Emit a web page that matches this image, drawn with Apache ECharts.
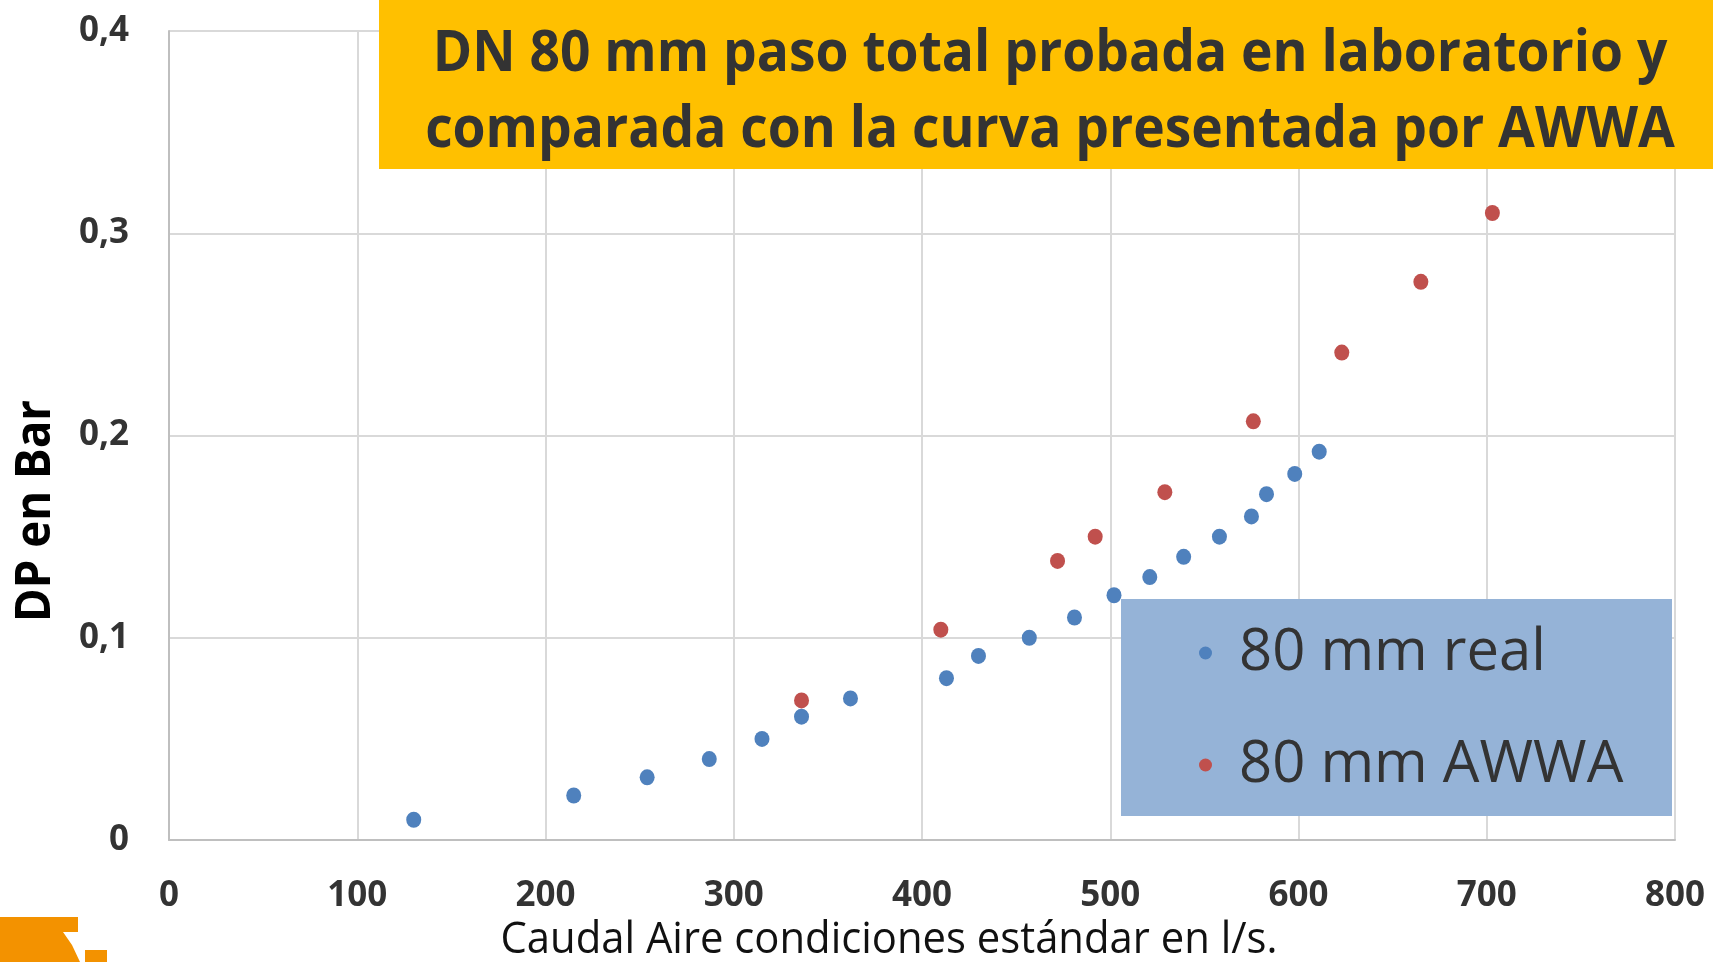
<!DOCTYPE html>
<html>
<head>
<meta charset="utf-8">
<script src="https://cdn.jsdelivr.net/npm/echarts@6/dist/echarts.min.js"></script>
<style>
html,body{margin:0;padding:0;background:#fff;}
#chart{width:1713px;height:962px;}
</style>
</head>
<body>
<div id="chart"></div>
<script>
// ---- data ----
var realX = [130, 215, 254, 287, 315, 336, 362, 413, 430, 457, 481, 502, 521, 539, 558, 575, 583, 598, 611];
var realY = [0.010, 0.022, 0.031, 0.040, 0.050, 0.061, 0.070, 0.080, 0.091, 0.100, 0.110, 0.121, 0.130, 0.140, 0.150, 0.160, 0.171, 0.181, 0.192];
var awwaX = [336, 410, 472, 492, 529, 576, 623, 665, 703];
var awwaY = [0.069, 0.104, 0.138, 0.150, 0.172, 0.207, 0.241, 0.276, 0.310];
var seriesNames = ['80 mm real', '80 mm AWWA'];
var titleLines = ['DN 80 mm paso total probada en laboratorio y', 'comparada con la curva presentada por AWWA'];
var xTitle = 'Caudal Aire condiciones estándar en l/s.';
var yTitle = 'DP en Bar';

function pairs(xs, ys){ return xs.map(function(x,i){ return [x, ys[i]]; }); }

var chart = echarts.init(document.getElementById('chart'), null, {renderer:'canvas'});
var font = '"Open Sans", "Noto Sans", sans-serif';
var option = {
  animation: false,
  backgroundColor: '#ffffff',
  grid: {left: 169, right: 38, top: 31, bottom: 122, containLabel: false},
  xAxis: {
    type: 'value', min: 0, max: 800, interval: 100,
    axisLine: {show: true, lineStyle: {color: '#bfbfbf', width: 2}},
    axisTick: {show: false},
    splitLine: {show: true, lineStyle: {color: '#d9d9d9', width: 2}},
    axisLabel: {color: '#333333', fontFamily: font, fontWeight: 'bold', fontSize: 35, margin: 39}
  },
  yAxis: {
    type: 'value', min: 0, max: 0.4, interval: 0.1,
    axisLine: {show: true, lineStyle: {color: '#bfbfbf', width: 2}},
    axisTick: {show: false},
    splitLine: {show: true, lineStyle: {color: '#d9d9d9', width: 2}},
    axisLabel: {color: '#333333', fontFamily: font, fontWeight: 'bold', fontSize: 35, margin: 40,
      formatter: function(v){ return v === 0 ? '0' : String(Math.round(v*10)/10).replace('.', ','); }}
  },
  legend: {
    orient: 'vertical', left: 1194, top: 614,
    icon: 'circle', itemWidth: 13, itemHeight: 13, itemGap: 44,
    data: seriesNames,
    textStyle: {color: '#333333', fontFamily: font, fontSize: 58, lineHeight: 68, padding: [0,0,0,22]},
    z: 10
  },
  graphic: [
    {type: 'rect', z: 8, shape: {x: 1121, y: 599, width: 551, height: 217}, style: {fill: '#95b3d7'}},
    {type: 'rect', z: 8, shape: {x: 379, y: 0, width: 1334, height: 169}, style: {fill: '#ffc000'}},
    {type: 'text', z: 9, x: 1050, y: 54, scaleX: 0.92,
      style: {text: titleLines[0], fill: '#333333', font: 'bold 58px ' + font, textAlign: 'center', textVerticalAlign: 'middle'}},
    {type: 'text', z: 9, x: 1050, y: 130, scaleX: 0.92,
      style: {text: titleLines[1], fill: '#333333', font: 'bold 58px ' + font, textAlign: 'center', textVerticalAlign: 'middle'}},
    {type: 'text', z: 9, x: 889, y: 940, scaleX: 0.95,
      style: {text: xTitle, fill: '#111111', font: '44px ' + font, textAlign: 'center', textVerticalAlign: 'middle'}},
    {type: 'text', z: 9, x: 36, y: 511, rotation: Math.PI/2, scaleX: 0.95,
      style: {text: yTitle, fill: '#000000', font: 'bold 48px ' + font, textAlign: 'center', textVerticalAlign: 'middle'}},
    {type: 'polygon', z: 8, shape: {points: [[0,917],[78,917],[78,932],[63,932],[72,945],[80,962],[0,962]]}, style: {fill: '#f39200'}},
    {type: 'rect', z: 8, shape: {x: 85, y: 950, width: 22, height: 12}, style: {fill: '#f39200'}}
  ],
  series: [
    {name: seriesNames[0], type: 'scatter', symbol: 'circle', symbolSize: [15, 16], z: 3,
      itemStyle: {color: '#4f81bd', opacity: 1}, data: pairs(realX, realY)},
    {name: seriesNames[1], type: 'scatter', symbol: 'circle', symbolSize: [15, 16], z: 3,
      itemStyle: {color: '#c0504d', opacity: 1}, data: pairs(awwaX, awwaY)}
  ]
};
chart.setOption(option);
</script>
</body>
</html>
